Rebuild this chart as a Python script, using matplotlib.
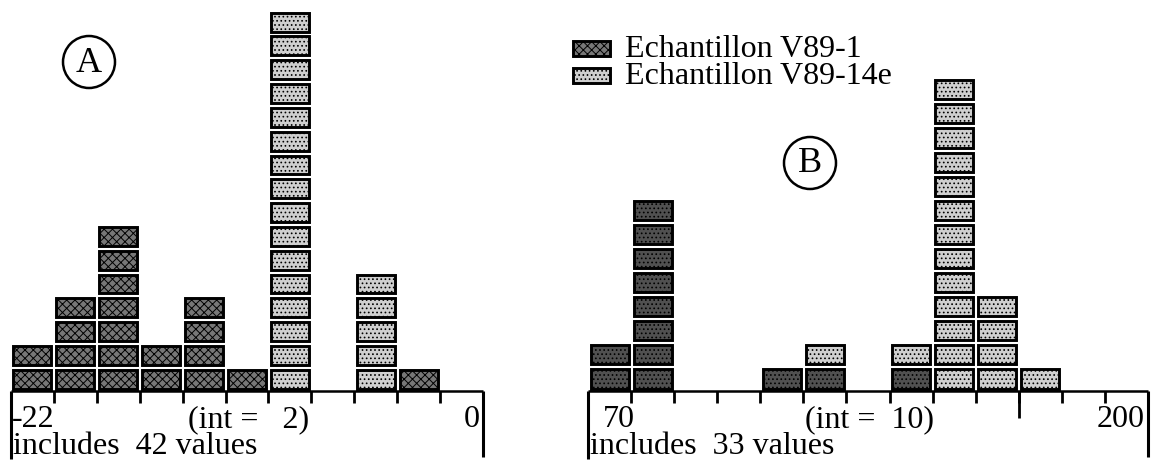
import matplotlib.pyplot as plt
from matplotlib.patches import Circle, Rectangle

W, H = 1151, 470
DPI = 100

plt.rcParams["font.family"] = ["Liberation Serif", "DejaVu Serif"]
plt.rcParams["hatch.linewidth"] = 0.7

SERIES = ["Echantillon V89-1", "Echantillon V89-14e"]

# panel A: classes from -22 to 0, interval 2
A_START, A_STEP = -22, 2
A_V89_1 = [2, 4, 7, 2, 4, 1, 0, 0, 0, 1, 0]
A_V89_14E = [0, 0, 0, 0, 0, 0, 16, 0, 5, 0, 0]

# panel B: classes from 70 to 200, interval 10
B_START, B_STEP = 70, 10
B_V89_1 = [2, 8, 0, 0, 1, 1, 0, 1, 0, 0, 0, 0, 0]
B_V89_14E = [0, 0, 0, 0, 0, 1, 0, 1, 13, 4, 1, 0, 0]

EDGE = dict(edgecolor="black", linewidth=2.1)
DARK_A = dict(facecolor="#777777", hatch="xxxx", **EDGE)
DARK_B = dict(facecolor="#505050", hatch="....", **EDGE)
LIGHT = dict(facecolor="#cfcfcf", hatch="....", **EDGE)

FS = 23
BASE_Y = 391  # baseline, pixels from top

fig = plt.figure(figsize=(W / DPI, H / DPI), dpi=DPI)
overlay = fig.add_axes([0, 0, 1, 1])
overlay.set_xlim(0, W)
overlay.set_ylim(H, 0)
overlay.axis("off")


def draw_panel(left, right, unit, start, step, dark, light, dark_style, tag,
               tag_xy, zero_pad=0, long_tick=None):
    n = len(dark)
    end = start + n * step
    binpx = (right - left) / n
    ax = fig.add_axes([left / W, (H - BASE_Y) / H, (right - left) / W, BASE_Y / H])
    ax.set_xlim(start, end)
    ax.set_ylim(0, BASE_Y / unit)
    ax.axis("off")

    gx = 2.5 * step / binpx
    gy = 2.5 / unit
    edges = [start + i * step for i in range(n)]
    for counts, bottoms, style in [
        (dark, [0] * n, dark_style),
        (light, dark, LIGHT),
    ]:
        for level in range(max(counts)):
            xs = [edges[i] + gx for i in range(n) if counts[i] > level]
            ys = [bottoms[i] + level + gy for i in range(n) if counts[i] > level]
            ax.bar(xs, 1 - 2 * gy, width=step - 2 * gx, bottom=ys,
                   align="edge", **style)

    # axis line, class ticks and end bars
    px = 1 / unit
    ax.plot([start, end], [0, 0], color="black", lw=1.8, clip_on=False,
            solid_capstyle="butt")
    ax.vlines(edges[1:], -12 * px, 0, color="black", lw=2.0, clip_on=False)
    if long_tick is not None:
        ax.vlines([long_tick], -27 * px, 0, color="black", lw=2.0, clip_on=False)
    ax.vlines([start], -68 * px, 0, color="black", lw=2.2, clip_on=False)
    ax.vlines([end], -66 * px, 0, color="black", lw=2.2, clip_on=False)

    total = sum(dark) + sum(light)
    overlay.text(left + 1 + zero_pad, 427, f"{start}", fontsize=FS, ha="left",
                 va="baseline")
    overlay.text(right - 3, 427, f"{end}", fontsize=FS, ha="right", va="baseline")
    overlay.text((left + right) / 2 + 2, 427, f"(int = {step:>3})", fontsize=FS,
                 ha="center", va="baseline")
    overlay.text(left + 2, 454, f"includes  {total} values", fontsize=FS,
                 ha="left", va="baseline")

    cx, cy = tag_xy
    overlay.add_patch(Circle((cx, cy), 26, facecolor="none", edgecolor="black",
                             lw=1.8))
    overlay.text(cx, cy + 1, tag, fontsize=26, ha="center", va="center")


draw_panel(11, 483, 23.8, A_START, A_STEP, A_V89_1, A_V89_14E, DARK_A, "A",
           (89, 62))
draw_panel(588, 1148, 24.1, B_START, B_STEP, B_V89_1, B_V89_14E, DARK_B, "B",
           (810, 163), zero_pad=14, long_tick=170)

# legend swatches
for i, (label, style) in enumerate(zip(SERIES, [DARK_A, LIGHT])):
    y = 41 + i * 27
    overlay.add_patch(Rectangle((573, y), 37, 15, **style))
    overlay.text(625, y + 16, label, fontsize=FS, ha="left", va="baseline")

fig.savefig("out.png", dpi=DPI)
